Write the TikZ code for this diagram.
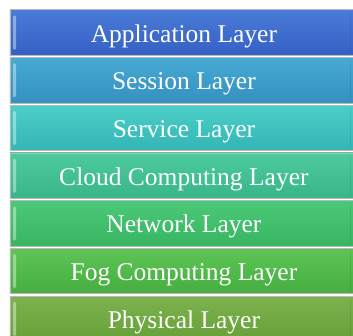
\documentclass[tikz,border=0pt]{standalone}
\usepackage{fontspec}
\setmainfont{Liberation Serif}
\begin{document}
\begin{tikzpicture}[x=1pt,y=1pt,
  layerbar/.style={draw=gray!55, line width=0.8pt, minimum width=348pt, minimum height=45.5pt,
    anchor=north west, inner sep=0pt, text=white, font=\fontsize{25.5}{29}\selectfont,
    text height=20pt, text depth=1.2pt},
  gloss/.style={rounded corners=1.5pt, line width=0pt}
]
\useasboundingbox (0,0) rectangle (353,-336);
\clip (0,0) rectangle (353,-336);
\fill[white] (0,0) rectangle (353,-336);
\foreach \n/\t/\top/\c [count=\i from 0] in {
  app/Application Layer/4A7BD8/3560C4,
  ses/Session Layer/47AAD4/3490C0,
  ser/Service Layer/4CCEC8/33B6B4,
  clo/Cloud Computing Layer/4ECB9C/38B687,
  net/Network Layer/4CC978/37B561,
  fog/Fog Computing Layer/5EC456/45AE3F,
  phy/Physical Layer/7DB24E/66A038}
{
  \definecolor{ctop}{HTML}{\top}
  \definecolor{cbot}{HTML}{\c}
  \node[layerbar, top color=ctop, bottom color=cbot] (\n) at (9.5,{-9.5-47.7*\i}) {\t};
  \fill[gloss, white, opacity=0.4] ([xshift=3.5pt,yshift=-6pt]\n.north west) rectangle ([xshift=6.5pt,yshift=6pt]\n.south west);
  \draw[black, opacity=0.08, line width=1pt] ([xshift=341pt,yshift=-3pt]\n.north west) -- ([xshift=341pt,yshift=3pt]\n.south west);
}
\end{tikzpicture}
\end{document}
